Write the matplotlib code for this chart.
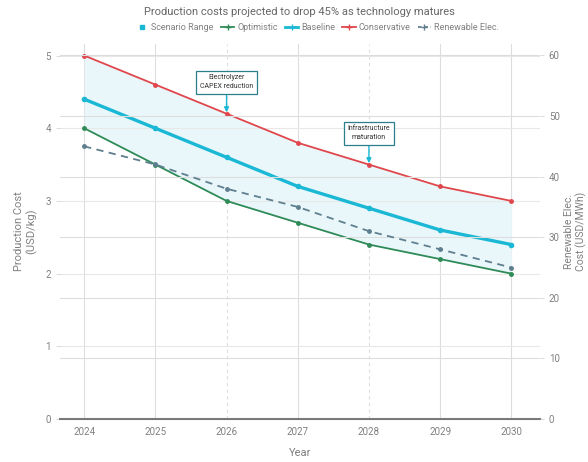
import matplotlib
matplotlib.use("Agg")
import matplotlib.pyplot as plt
from matplotlib.lines import Line2D

plt.rcParams['font.family'] = ['Roboto', 'DejaVu Sans']

years = [2024, 2025, 2026, 2027, 2028, 2029, 2030]
optimistic = [4.0, 3.5, 3.0, 2.7, 2.4, 2.2, 2.0]
baseline = [4.4, 4.0, 3.6, 3.2, 2.9, 2.6, 2.4]
conservative = [5.0, 4.6, 4.2, 3.8, 3.5, 3.2, 3.0]
renewable = [45, 42, 38, 35, 31, 28, 25]

notes = [(2026, "Electrolyzer\nCAPEX reduction", 4.2, 4.63),
         (2028, "Infrastructure\nmaturation", 3.5, 3.93)]

C_OPT = "#2e8b57"
C_BASE = "#1ab8d4"
C_CONS = "#e0474c"
C_REN = "#5f7f8f"
TXT = "#808080"

fig = plt.figure(figsize=(5.88, 4.62), dpi=100)
ax = fig.add_axes([0.102, 0.093, 0.816, 0.812])
ax2 = ax.twinx()

ax.fill_between(years, optimistic, conservative, color="#e9f7fb", lw=0, zorder=1)
ax.plot(years, optimistic, color=C_OPT, lw=1.3, marker="o", ms=2.5, zorder=3)
ax.plot(years, baseline, color=C_BASE, lw=2.4, marker="o", ms=3, zorder=4)
ax.plot(years, conservative, color=C_CONS, lw=1.3, marker="o", ms=2.5, zorder=3)
ax2.plot(years, renewable, color=C_REN, lw=1.3, ls=(0, (4, 3)), marker="o", ms=2.5, zorder=3)

ax.set_xlim(2023.66, 2030.4)
ax.set_ylim(0, 5.16)
ax2.set_ylim(0, 61.9)
ax.set_xticks(years)
ax.set_yticks(range(6))
ax2.set_yticks(range(0, 61, 10))

for a in (ax, ax2):
    for s in a.spines.values():
        s.set_visible(False)
    a.tick_params(colors=TXT, labelsize=7, length=3, width=0.5, color="#cccccc")
ax.spines["bottom"].set_visible(True)
ax.spines["bottom"].set_color("#777777")
ax.spines["bottom"].set_linewidth(1.5)
ax.tick_params(axis="x", length=0, pad=6)

ax.grid(axis="y", color="#e8e8e8", lw=0.8, zorder=0)
ax2.grid(axis="y", color="#dddddd", lw=0.8, zorder=0)
for yr in years:
    ls = (0, (3, 3)) if yr in (2026, 2028) else "-"
    ax.axvline(yr, color="#dddddd", lw=0.8, ls=ls, zorder=0)

ax.set_xlabel("Year", color=TXT, fontsize=8, labelpad=8)
ax.set_ylabel("Production Cost\n(USD/kg)", color=TXT, fontsize=8, labelpad=6)
ax2.set_ylabel("Renewable Elec.\nCost (USD/MWh)", color=TXT, fontsize=7.5, labelpad=3)

for yr, text, yv, ytxt in notes:
    ax.annotate(text, xy=(yr, yv), xytext=(yr, ytxt), ha="center", va="center",
                fontsize=5, color="#333333", zorder=6, linespacing=1.4,
                bbox=dict(boxstyle="square,pad=0.5", fc="white", ec="#2a7f8a", lw=0.9),
                arrowprops=dict(arrowstyle="-|>", color=C_BASE, lw=1.0, mutation_scale=7,
                                shrinkA=0, shrinkB=1))

fig.suptitle("Production costs projected to drop 45% as technology matures",
             x=0.51, y=0.985, fontsize=8, color="#666666")

handles = [Line2D([], [], ls="none", marker="s", ms=3.5, color=C_BASE),
           Line2D([], [], color=C_OPT, lw=1.3, marker="+", ms=4.5),
           Line2D([], [], color=C_BASE, lw=2.0, marker="+", ms=4.5),
           Line2D([], [], color=C_CONS, lw=1.3, marker="+", ms=4.5),
           Line2D([], [], color=C_REN, lw=1.3, ls=(0, (2, 1.5)), marker="+", ms=4.5)]
labels = ["Scenario Range", "Optimistic", "Baseline", "Conservative", "Renewable Elec."]
leg = fig.legend(handles, labels, loc="center", bbox_to_anchor=(0.539, 0.94), ncol=5,
                 frameon=False, fontsize=6.5, handlelength=1.5, handletextpad=0.3,
                 columnspacing=0.8, labelcolor=TXT)

fig.savefig("out.png", dpi=100, facecolor="white")
